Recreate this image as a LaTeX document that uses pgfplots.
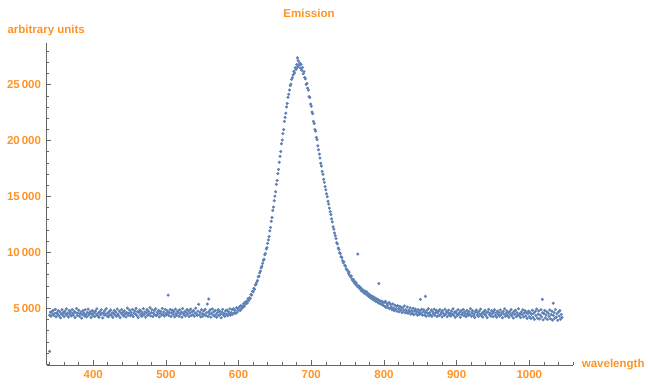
\documentclass[border=0pt]{standalone}
\usepackage{fontspec}
\setmainfont{Liberation Sans}
\usepackage{pgfplots}
\pgfplotsset{compat=1.18}
\definecolor{lab}{HTML}{FF9326}
\definecolor{pts}{HTML}{5E81B5}
\definecolor{axc}{HTML}{666666}
\newcommand{\lf}{\fontsize{11.5}{13}\selectfont\bfseries}
\begin{document}
\begin{tikzpicture}
\useasboundingbox (-46.7pt,-20pt) rectangle (601.3pt,365pt);
\begin{axis}[
 at={(0pt,0pt)}, anchor=south west, scale only axis,
 width=526.6pt, height=322.3pt,
 xmin=336, xmax=1060.5, ymin=-72, ymax=28756,
 axis lines=left, axis line style={-, draw=axc, line width=0.8pt},
 xtick={400,500,...,1000}, ytick={5000,10000,...,25000},
 minor xtick={340,360,...,1060}, minor ytick={0,1000,...,28000},
 major tick length=4.5pt, minor tick length=2.8pt,
 tick style={draw=axc, line width=0.6pt},
 tick align=inside,
 scaled ticks=false,
 /pgf/number format/assume math mode=true,
 tick label style={font=\lf, text=lab, inner sep=0pt},
 xticklabel style={anchor=north, yshift=-5.5pt, /pgf/number format/1000 sep={}},
 yticklabel style={anchor=east, xshift=-5.5pt, /pgf/number format/1000 sep={\,}},
 clip=false,
]
\addplot[only marks, mark=*, mark size=1.4pt, mark options={fill=pts, draw=pts, line width=0.3pt}] coordinates {
(340,1150)(503,6180)(559,5830)(764,9850)(793,7200)(850,5800)(857,6070)(1018,5800)(1033,5450)(681,27400)
(340,4380)(341,4650)(342,4290)(343,4720)(344,4480)(345,4830)(346,4350)(347,4560)(348,4910)(349,4240)
(350,4600)(351,4470)(352,4780)(353,4330)(354,4690)(355,4150)(356,4520)(357,4870)(358,4410)(359,4630)
(360,4260)(361,4740)(362,4500)(363,4950)(364,4380)(365,4580)(366,4210)(367,4800)(368,4460)(369,4660)
(370,4320)(371,4890)(372,4540)(373,4400)(374,4720)(375,4180)(376,4610)(377,4990)(378,4350)(379,4570)
(380,4830)(381,4290)(382,4510)(383,4670)(384,4120)(385,4440)(386,4780)(387,4590)(388,4310)(389,4860)
(390,4450)(391,4230)(392,4640)(393,4920)(394,4380)(395,4530)(396,4700)(397,4170)(398,4490)(399,4810)
(400,4360)(401,4610)(402,4260)(403,4750)(404,4470)(405,4940)(406,4330)(407,4580)(408,4200)(409,4690)
(410,4420)(411,4870)(412,4550)(413,4140)(414,4620)(415,4390)(416,4780)(417,4480)(418,4960)(419,4300)
(420,4570)(421,4240)(422,4710)(423,4430)(424,4850)(425,4360)(426,4600)(427,4190)(428,4520)(429,4800)
(430,4410)(431,4670)(432,4280)(433,4930)(434,4500)(435,4350)(436,4740)(437,4160)(438,4590)(439,4880)
(440,4440)(441,4650)(442,4310)(443,4770)(444,4490)(445,4220)(446,4620)(447,5020)(448,4380)(449,4560)
(450,4840)(451,4330)(452,4650)(453,4420)(454,4900)(455,4250)(456,4580)(457,4760)(458,4470)(459,5000)
(460,4360)(461,4690)(462,4180)(463,4620)(464,4850)(465,4400)(466,4730)(467,4290)(468,4550)(469,4960)
(470,4440)(471,4680)(472,4210)(473,4590)(474,4880)(475,4370)(476,4740)(477,4500)(478,5050)(479,4320)
(480,4610)(481,4870)(482,4260)(483,4560)(484,4790)(485,4410)(486,4950)(487,4340)(488,4640)(489,4470)
(490,4820)(491,4230)(492,4570)(493,4710)(494,4390)(495,4980)(496,4450)(497,4660)(498,4300)(499,4890)
(500,4530)(501,4420)(502,4770)(503,4600)(504,4350)(505,4620)(506,4900)(507,4270)(508,4590)(509,4830)
(510,4460)(511,4700)(512,4240)(513,4930)(514,4510)(515,4380)(516,4750)(517,4600)(518,4290)(519,4860)
(520,4480)(521,4670)(522,4200)(523,4970)(524,4540)(525,4400)(526,4720)(527,4310)(528,4630)(529,4890)
(530,4460)(531,4780)(532,4250)(533,4580)(534,4920)(535,4370)(536,4690)(537,4430)(538,4810)(539,4280)
(540,4600)(541,5010)(542,4490)(543,4360)(544,4740)(545,5350)(546,4410)(547,4650)(548,4230)(549,4870)
(550,4520)(551,4300)(552,4760)(553,4440)(554,4900)(555,4340)(556,4600)(557,5380)(558,4270)(559,4700)
(560,4480)(561,4860)(562,4210)(563,4570)(564,4940)(565,4390)(566,4680)(567,4310)(568,4800)(569,4450)
(570,4200)(571,4620)(572,4880)(573,4350)(574,4730)(575,4470)(576,4150)(577,4660)(578,4900)(579,4400)
(580,4560)(581,4280)(582,4770)(583,4490)(584,4850)(585,4330)(586,4700)(587,4520)(588,4940)(589,4380)
(590,4620)(591,4880)(592,4470)(593,4960)(594,4590)(595,4810)(596,4540)(597,5050)(598,4660)(599,4980)
(600,4850)(601,5120)(602,4790)(603,5230)(604,4960)(605,5200)(606,5080)(607,5420)(608,5190)(609,5560)
(610,5400)(611,5620)(612,5480)(613,5850)(614,5700)(615,5950)(616,5880)(617,6230)(618,6180)(619,6520)
(620,6460)(621,6790)(622,6700)(623,7080)(624,7150)(625,7330)(626,7480)(627,7820)(628,7860)(629,8160)
(630,8320)(631,8620)(632,8750)(633,9020)(634,9280)(635,9380)(636,9790)(637,9910)(638,10300)(639,10420)
(640,10810)(641,11120)(642,11420)(643,11930)(644,12230)(645,12780)(646,13120)(647,13740)(648,14050)(649,14620)
(650,15030)(651,15420)(652,16080)(653,16430)(654,17050)(655,17420)(656,18060)(657,18590)(658,19020)(659,19720)
(660,20050)(661,20620)(662,20980)(663,21710)(664,22080)(665,22450)(666,23010)(667,23320)(668,23880)(669,24150)
(670,24520)(671,24930)(672,25050)(673,25480)(674,25640)(675,25880)(676,26190)(677,26050)(678,26520)(679,26380)
(680,26810)(681,26560)(682,27150)(683,26720)(684,26950)(685,26480)(686,26820)(687,26290)(688,26540)(689,25980)
(690,26150)(691,25640)(692,25520)(693,25030)(694,25110)(695,24690)(696,24520)(697,23930)(698,23850)(699,23260)
(700,23080)(701,22560)(702,22410)(703,21720)(704,21530)(705,20980)(706,20850)(707,20290)(708,20080)(709,19530)
(710,19180)(711,18790)(712,18450)(713,17980)(714,17720)(715,17250)(716,16990)(717,16540)(718,16270)(719,15880)
(720,15590)(721,15240)(722,14970)(723,14580)(724,14320)(725,13960)(726,13640)(727,13380)(728,12990)(729,12720)
(730,12290)(731,12080)(732,11740)(733,11480)(734,11250)(735,10870)(736,10760)(737,10390)(738,10280)(739,9970)
(740,9880)(741,9610)(742,9530)(743,9260)(744,9080)(745,9150)(746,8850)(747,8760)(748,8520)(749,8440)
(750,8380)(751,8120)(752,8230)(753,7930)(754,7810)(755,7890)(756,7620)(757,7480)(758,7590)(759,7300)
(760,7380)(761,7150)(762,7260)(763,6980)(764,7030)(765,6890)(766,6980)(767,6720)(768,6850)(769,6560)
(770,6700)(771,6480)(772,6610)(773,6350)(774,6520)(775,6290)(776,6470)(777,6160)(778,6330)(779,6080)
(780,6240)(781,5970)(782,6130)(783,5860)(784,6050)(785,5780)(786,6010)(787,5690)(788,5890)(789,5620)
(790,5840)(791,5560)(792,5770)(793,5470)(794,5680)(795,5410)(796,5640)(797,5350)(798,5580)(799,5260)
(800,5510)(801,5180)(802,5620)(803,5090)(804,5440)(805,5270)(806,5030)(807,5510)(808,4980)(809,5350)
(810,5120)(811,4870)(812,5390)(813,5010)(814,4790)(815,5280)(816,4920)(817,5180)(818,4740)(819,5230)
(820,4960)(821,4690)(822,5170)(823,4850)(824,5080)(825,4620)(826,5020)(827,4780)(828,5210)(829,4590)
(830,4880)(831,4660)(832,5120)(833,4550)(834,4830)(835,4690)(836,5040)(837,4470)(838,4790)(839,4580)
(840,5010)(841,4420)(842,4760)(843,4940)(844,4510)(845,4700)(846,4380)(847,4880)(848,4620)(849,4450)
(850,4790)(851,4530)(852,4920)(853,4370)(854,4680)(855,4860)(856,4410)(857,4640)(858,4290)(859,4810)
(860,4550)(861,4970)(862,4340)(863,4620)(864,4430)(865,4850)(866,4280)(867,4700)(868,4500)(869,4930)
(870,4390)(871,4610)(872,4820)(873,4260)(874,4570)(875,4740)(876,4350)(877,4880)(878,4460)(879,4630)
(880,4230)(881,4780)(882,4520)(883,4380)(884,4910)(885,4470)(886,4690)(887,4250)(888,4600)(889,4830)
(890,4410)(891,4560)(892,4300)(893,4760)(894,4490)(895,4950)(896,4370)(897,4640)(898,4200)(899,4720)
(900,4530)(901,4350)(902,4870)(903,4460)(904,4620)(905,4190)(906,4780)(907,4420)(908,4580)(909,4890)
(910,4330)(911,4670)(912,4480)(913,4250)(914,4810)(915,4550)(916,4370)(917,4720)(918,4440)(919,4960)
(920,4290)(921,4590)(922,4780)(923,4360)(924,4510)(925,4180)(926,4690)(927,4850)(928,4400)(929,4600)
(930,4270)(931,4750)(932,4470)(933,4920)(934,4340)(935,4560)(936,4210)(937,4700)(938,4490)(939,4830)
(940,4380)(941,4620)(942,4160)(943,4660)(944,4900)(945,4430)(946,4580)(947,4300)(948,4790)(949,4520)
(950,4250)(951,4680)(952,4870)(953,4350)(954,4570)(955,4200)(956,4740)(957,4460)(958,4630)(959,4310)
(960,4850)(961,4410)(962,4590)(963,4150)(964,4710)(965,4480)(966,4940)(967,4280)(968,4540)(969,4770)
(970,4360)(971,4610)(972,4190)(973,4690)(974,4430)(975,4880)(976,4320)(977,4560)(978,4130)(979,4730)
(980,4470)(981,4820)(982,4250)(983,4600)(984,4390)(985,4960)(986,4340)(987,4520)(988,4170)(989,4680)
(990,4450)(991,4860)(992,4230)(993,4570)(994,4790)(995,4310)(996,4640)(997,4100)(998,4500)(999,4740)
(1000,4260)(1001,4620)(1002,4080)(1003,4470)(1004,4830)(1005,4190)(1006,4550)(1007,4010)(1008,4700)(1009,4340)
(1010,4920)(1011,4120)(1012,4480)(1013,4760)(1014,4050)(1015,4390)(1016,4870)(1017,4230)(1018,4600)(1019,3970)
(1020,4520)(1021,4810)(1022,4140)(1023,4400)(1024,4690)(1025,3990)(1026,4560)(1027,4280)(1028,4850)(1029,4060)
(1030,4430)(1031,4740)(1032,3950)(1033,4360)(1034,4620)(1035,4110)(1036,4900)(1037,4210)(1038,4500)(1039,3930)
(1040,4670)(1041,4300)(1042,4790)(1043,4020)(1044,4450)(1045,4180)
};
\end{axis}
\node[font=\lf, text=lab] at (262.3pt,352pt) {Emission};
\node[font=\lf, text=lab, anchor=west, inner sep=0pt] at (-39.4pt,334.3pt) {arbitrary units};
\node[font=\lf, text=lab, anchor=west, inner sep=0pt] at (535pt,0.3pt) {wavelength};
\end{tikzpicture}
\end{document}
